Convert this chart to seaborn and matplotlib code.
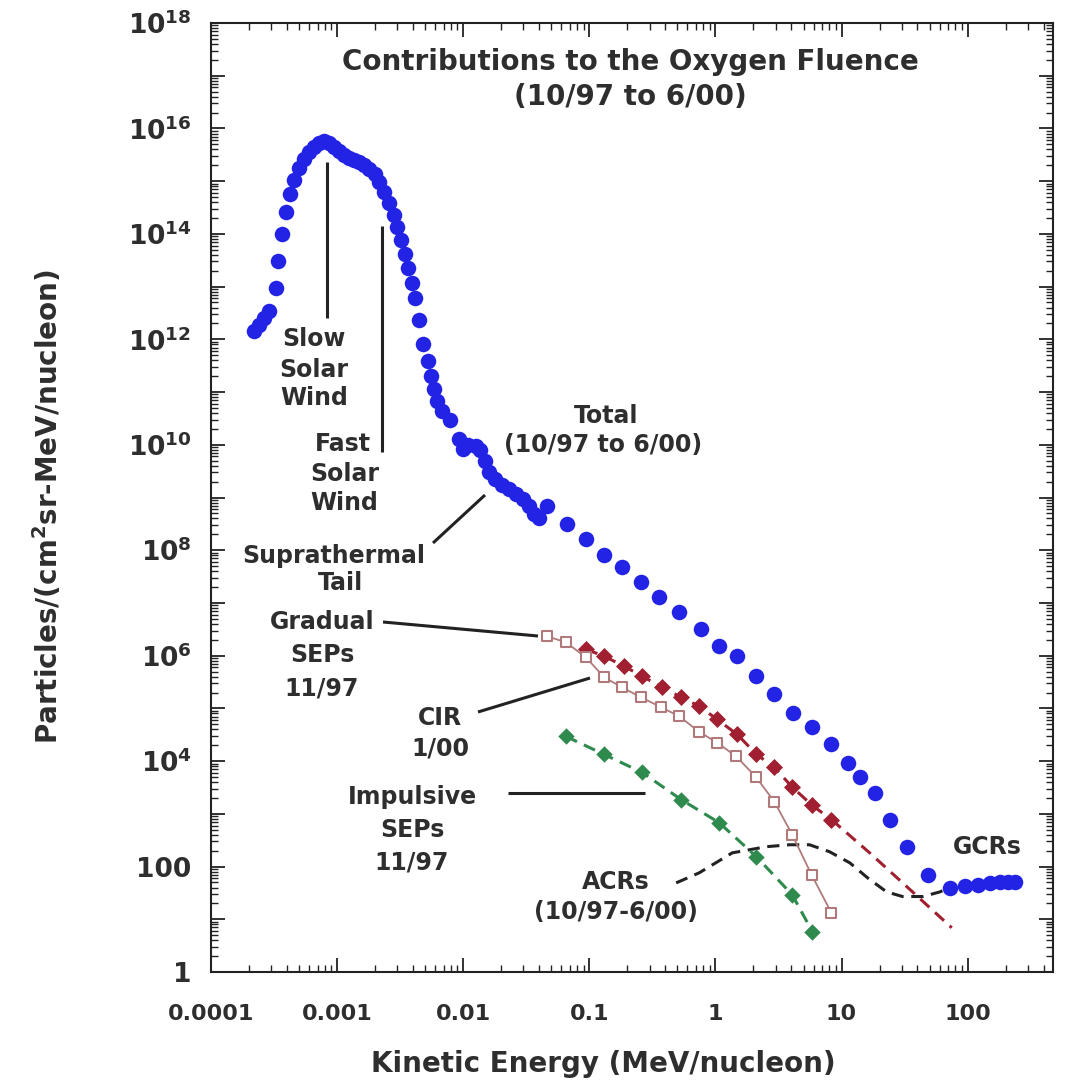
import numpy as np
import pandas as pd
import seaborn as sns
import matplotlib
matplotlib.use("Agg")
import matplotlib.pyplot as plt
from matplotlib.ticker import FixedLocator, LogLocator, FuncFormatter, NullFormatter

# ---------------- data ----------------
total_energy = [2.20e-4, 2.41e-4, 2.64e-4, 2.89e-4, 3.29e-4, 3.41e-4, 3.66e-4, 3.94e-4,
                4.25e-4, 4.57e-4, 5.01e-4, 5.48e-4, 6.01e-4, 6.59e-4, 7.23e-4, 7.91e-4,
                8.67e-4, 9.51e-4, 1.04e-3, 1.14e-3, 1.25e-3, 1.37e-3, 1.50e-3, 1.64e-3,
                1.80e-3, 1.98e-3, 2.16e-3, 2.37e-3, 2.60e-3, 2.80e-3, 3.01e-3, 3.24e-3,
                3.48e-3, 3.68e-3, 3.89e-3, 4.11e-3, 4.42e-3, 4.84e-3, 5.21e-3, 5.51e-3,
                5.82e-3, 6.15e-3, 6.85e-3, 7.80e-3, 9.18e-3, 9.89e-3, 1.10e-2, 1.26e-2,
                1.37e-2, 1.48e-2, 1.59e-2, 1.78e-2, 2.02e-2, 2.30e-2, 2.61e-2, 2.96e-2,
                3.31e-2, 3.63e-2, 3.97e-2, 4.60e-2, 6.64e-2, 9.40e-2, 0.131, 0.182,
                0.257, 0.357, 0.515, 0.771, 1.07, 1.49, 2.11, 2.93, 4.15, 5.87, 8.32,
                11.2, 13.9, 18.3, 24.1, 32.9, 48.3, 72.3, 95.1, 120.5, 150.0, 180.0,
                209.0, 237.0]
total_flux = [1.41e12, 1.91e12, 2.57e12, 3.39e12, 9.3e12, 3.0e13, 9.8e13, 2.6e14,
              5.6e14, 1.05e15, 1.78e15, 2.63e15, 3.55e15, 4.47e15, 5.25e15, 5.75e15,
              5.25e15, 4.47e15, 3.72e15, 3.09e15, 2.75e15, 2.51e15, 2.29e15, 2.0e15,
              1.70e15, 1.35e15, 9.5e14, 6.2e14, 3.8e14, 2.24e14, 1.35e14, 7.6e13,
              4.1e13, 2.24e13, 1.15e13, 6.0e12, 2.29e12, 8.3e11, 3.8e11, 2.04e11,
              1.15e11, 6.9e10, 4.3e10, 2.9e10, 1.29e10, 8.3e9, 1.0e10, 9.5e9,
              7.8e9, 5.0e9, 3.1e9, 2.24e9, 1.74e9, 1.45e9, 1.17e9, 9.3e8,
              6.9e8, 4.9e8, 4.1e8, 6.9e8, 3.16e8, 1.62e8, 8.1e7, 4.8e7,
              2.5e7, 1.29e7, 6.8e6, 3.16e6, 1.51e6, 9.8e5, 4.1e5, 1.86e5, 8.3e4,
              4.4e4, 2.09e4, 9.3e3, 4.9e3, 2.5e3, 776, 240, 68, 40, 42, 45, 49, 51,
              51, 51]

gradual_energy = [0.094, 0.131, 0.188, 0.262, 0.378, 0.535, 0.743, 1.03, 1.49, 2.11,
                  2.93, 4.07, 5.87, 8.32]
gradual_flux = [1.32e6, 9.8e5, 6.3e5, 4.1e5, 2.5e5, 1.62e5, 1.10e5, 6.2e4, 3.2e4,
                1.35e4, 7.6e3, 3.2e3, 1.44e3, 776]
gradual_fit_energy = [8.32, 16.7, 33.5, 74.8]
gradual_fit_flux = [776, 182, 40, 6.9]

cir_energy = [0.046, 0.0652, 0.094, 0.131, 0.182, 0.257, 0.371, 0.515, 0.743, 1.03,
              1.46, 2.11, 2.93, 4.07, 5.78, 8.32]
cir_flux = [2.34e6, 1.79e6, 9.3e5, 3.9e5, 2.5e5, 1.62e5, 1.05e5, 7.1e4, 3.6e4, 2.24e4,
            1.23e4, 4.9e3, 1.70e3, 400, 70, 13.2]

impulsive_energy = [0.0652, 0.131, 0.262, 0.535, 1.07, 2.11, 4.07, 5.87]
impulsive_flux = [2.94e4, 1.34e4, 6.1e3, 1.86e3, 680, 154, 29, 5.8]

acr_energy = [0.488, 0.743, 1.36, 2.54, 3.86, 5.57, 8.03, 11.6, 16.1, 22.8, 30.5,
              44.1, 60.1, 72.0]
acr_flux = [49, 76, 182, 238, 259, 259, 191, 118, 61, 33, 27, 27, 33, 40]

x_ticks = [1e-4, 1e-3, 1e-2, 1e-1, 1, 10, 100]
x_tick_labels = ["0.0001", "0.001", "0.01", "0.1", "1", "10", "100"]

# ---------------- style ----------------
sns.set_theme(style="white")
plt.rcParams['font.family'] = ['DejaVu Sans']
plt.rcParams['mathtext.fontset'] = 'dejavusans'
plt.rcParams['mathtext.default'] = 'bf'

TXT = '#2e2e2e'
BLUE = '#2323e6'
RED = '#a01f30'
GREEN = '#2f8a4e'
PINK = '#b07a7a'

fig = plt.figure(figsize=(10.76, 10.87), dpi=100)
ax = fig.add_axes([211 / 1076, 115 / 1087, 842 / 1076, 949 / 1087])

df_tot = pd.DataFrame({'E': total_energy, 'F': total_flux})
df_grad = pd.DataFrame({'E': gradual_energy, 'F': gradual_flux})
df_gfit = pd.DataFrame({'E': gradual_fit_energy, 'F': gradual_fit_flux})
df_cir = pd.DataFrame({'E': cir_energy, 'F': cir_flux})
df_imp = pd.DataFrame({'E': impulsive_energy, 'F': impulsive_flux})
df_acr = pd.DataFrame({'E': acr_energy, 'F': acr_flux})

DASH = (0, (4, 2.5))
# ACR dashed curve
sns.lineplot(data=df_acr, x='E', y='F', ax=ax, color='#222222', linestyle=DASH,
             linewidth=2.2, estimator=None, sort=False)
# Impulsive SEPs
sns.lineplot(data=df_imp, x='E', y='F', ax=ax, color=GREEN, linestyle=DASH,
             linewidth=2.2, estimator=None, sort=False)
sns.scatterplot(data=df_imp, x='E', y='F', ax=ax, marker='D', s=70, color=GREEN,
                linewidth=0, zorder=3)
# Gradual SEPs
sns.lineplot(data=df_grad, x='E', y='F', ax=ax, color=RED, linestyle=DASH,
             linewidth=2.2, estimator=None, sort=False)
sns.lineplot(data=df_gfit, x='E', y='F', ax=ax, color=RED, linestyle=DASH,
             linewidth=2.2, estimator=None, sort=False)
sns.scatterplot(data=df_grad, x='E', y='F', ax=ax, marker='D', s=75, color=RED,
                linewidth=0, zorder=3)
# CIR
sns.lineplot(data=df_cir, x='E', y='F', ax=ax, color=PINK, linewidth=1.3,
             estimator=None, sort=False)
sns.scatterplot(data=df_cir, x='E', y='F', ax=ax, marker='s', s=50, facecolor='white',
                edgecolor=PINK, linewidth=1.5, zorder=4)
# Total
sns.scatterplot(data=df_tot, x='E', y='F', ax=ax, marker='o', s=125, color=BLUE,
                linewidth=0, zorder=5)

ax.set_xscale('log')
ax.set_yscale('log')
ax.set_xlim(1e-4, 475)
ax.set_ylim(1, 1e18)

# ticks
ax.xaxis.set_major_locator(FixedLocator(x_ticks))
ax.set_xticklabels(x_tick_labels)
ax.xaxis.set_minor_locator(LogLocator(base=10, subs=np.arange(2, 10), numticks=100))
ax.xaxis.set_minor_formatter(NullFormatter())
ax.yaxis.set_major_locator(FixedLocator([10.0 ** i for i in range(19)]))


def yfmt(v, pos):
    e = int(round(np.log10(v)))
    if e % 2:
        return ''
    if e == 0:
        return '1'
    if e == 2:
        return '100'
    return r'$\mathbf{10^{%d}}$' % e


ax.yaxis.set_major_formatter(FuncFormatter(yfmt))
ax.yaxis.set_minor_locator(LogLocator(base=10, subs=np.arange(2, 10), numticks=200))
ax.yaxis.set_minor_formatter(NullFormatter())

ax.tick_params(which='both', direction='in', top=True, right=True, bottom=True, left=True,
               colors='#222222')
ax.tick_params(which='major', length=10, width=1.3)
ax.tick_params(which='minor', length=5, width=1.0)
ax.tick_params(axis='x', which='major', pad=23, labelsize=16)
ax.tick_params(axis='y', which='major', pad=14, labelsize=19)
for lab in ax.get_xticklabels() + ax.get_yticklabels():
    lab.set_fontweight('bold')
    lab.set_color(TXT)
for sp in ax.spines.values():
    sp.set_color('#222222')
    sp.set_linewidth(1.5)

ax.set_xlabel('Kinetic Energy (MeV/nucleon)', fontsize=20, fontweight='bold', color=TXT)
ax.set_ylabel(r'Particles/(cm$^{2}$sr-MeV/nucleon)', fontsize=20, fontweight='bold',
              color=TXT)
ax.xaxis.set_label_coords(0.466, -0.082)
ax.yaxis.set_label_coords(-0.175, 0.49)


# ---------------- annotations ----------------
def P(px, py):
    return ((px - 211) / 842, (972 - py) / 949)


def label(px, py, s, size=17):
    ax.text(*P(px, py), s, transform=ax.transAxes, ha='center', va='center',
            fontsize=size, fontweight='bold', color=TXT)


def seg(p0, p1):
    (x0, y0), (x1, y1) = P(*p0), P(*p1)
    ax.plot([x0, x1], [y0, y1], transform=ax.transAxes, color='#222222', lw=2.2,
            solid_capstyle='butt')


label(630, 62, 'Contributions to the Oxygen Fluence', size=20)
label(630, 97, '(10/97 to 6/00)', size=20)
label(314, 339, 'Slow')
label(314, 370, 'Solar')
label(314, 398, 'Wind')
label(343, 444, 'Fast')
label(345, 474, 'Solar')
label(344, 503, 'Wind')
label(334, 556, 'Suprathermal')
label(340, 583, 'Tail')
label(606, 416, 'Total')
label(603, 445, '(10/97 to 6/00)')
label(322, 622, 'Gradual')
label(322, 655, 'SEPs')
label(322, 688, '11/97')
label(440, 718, 'CIR')
label(440, 748, '1/00')
label(412, 797, 'Impulsive')
label(412, 830, 'SEPs')
label(412, 862, '11/97')
label(616, 882, 'ACRs')
label(616, 912, '(10/97-6/00)')
label(987, 847, 'GCRs')

seg((327, 162), (327, 318))
seg((382, 226), (382, 452))
seg((433, 543), (485, 495))
seg((383, 622), (538, 636))
seg((478, 712), (590, 678))
seg((508, 793), (645, 793))

fig.savefig('out.png', dpi=100, facecolor='white')
